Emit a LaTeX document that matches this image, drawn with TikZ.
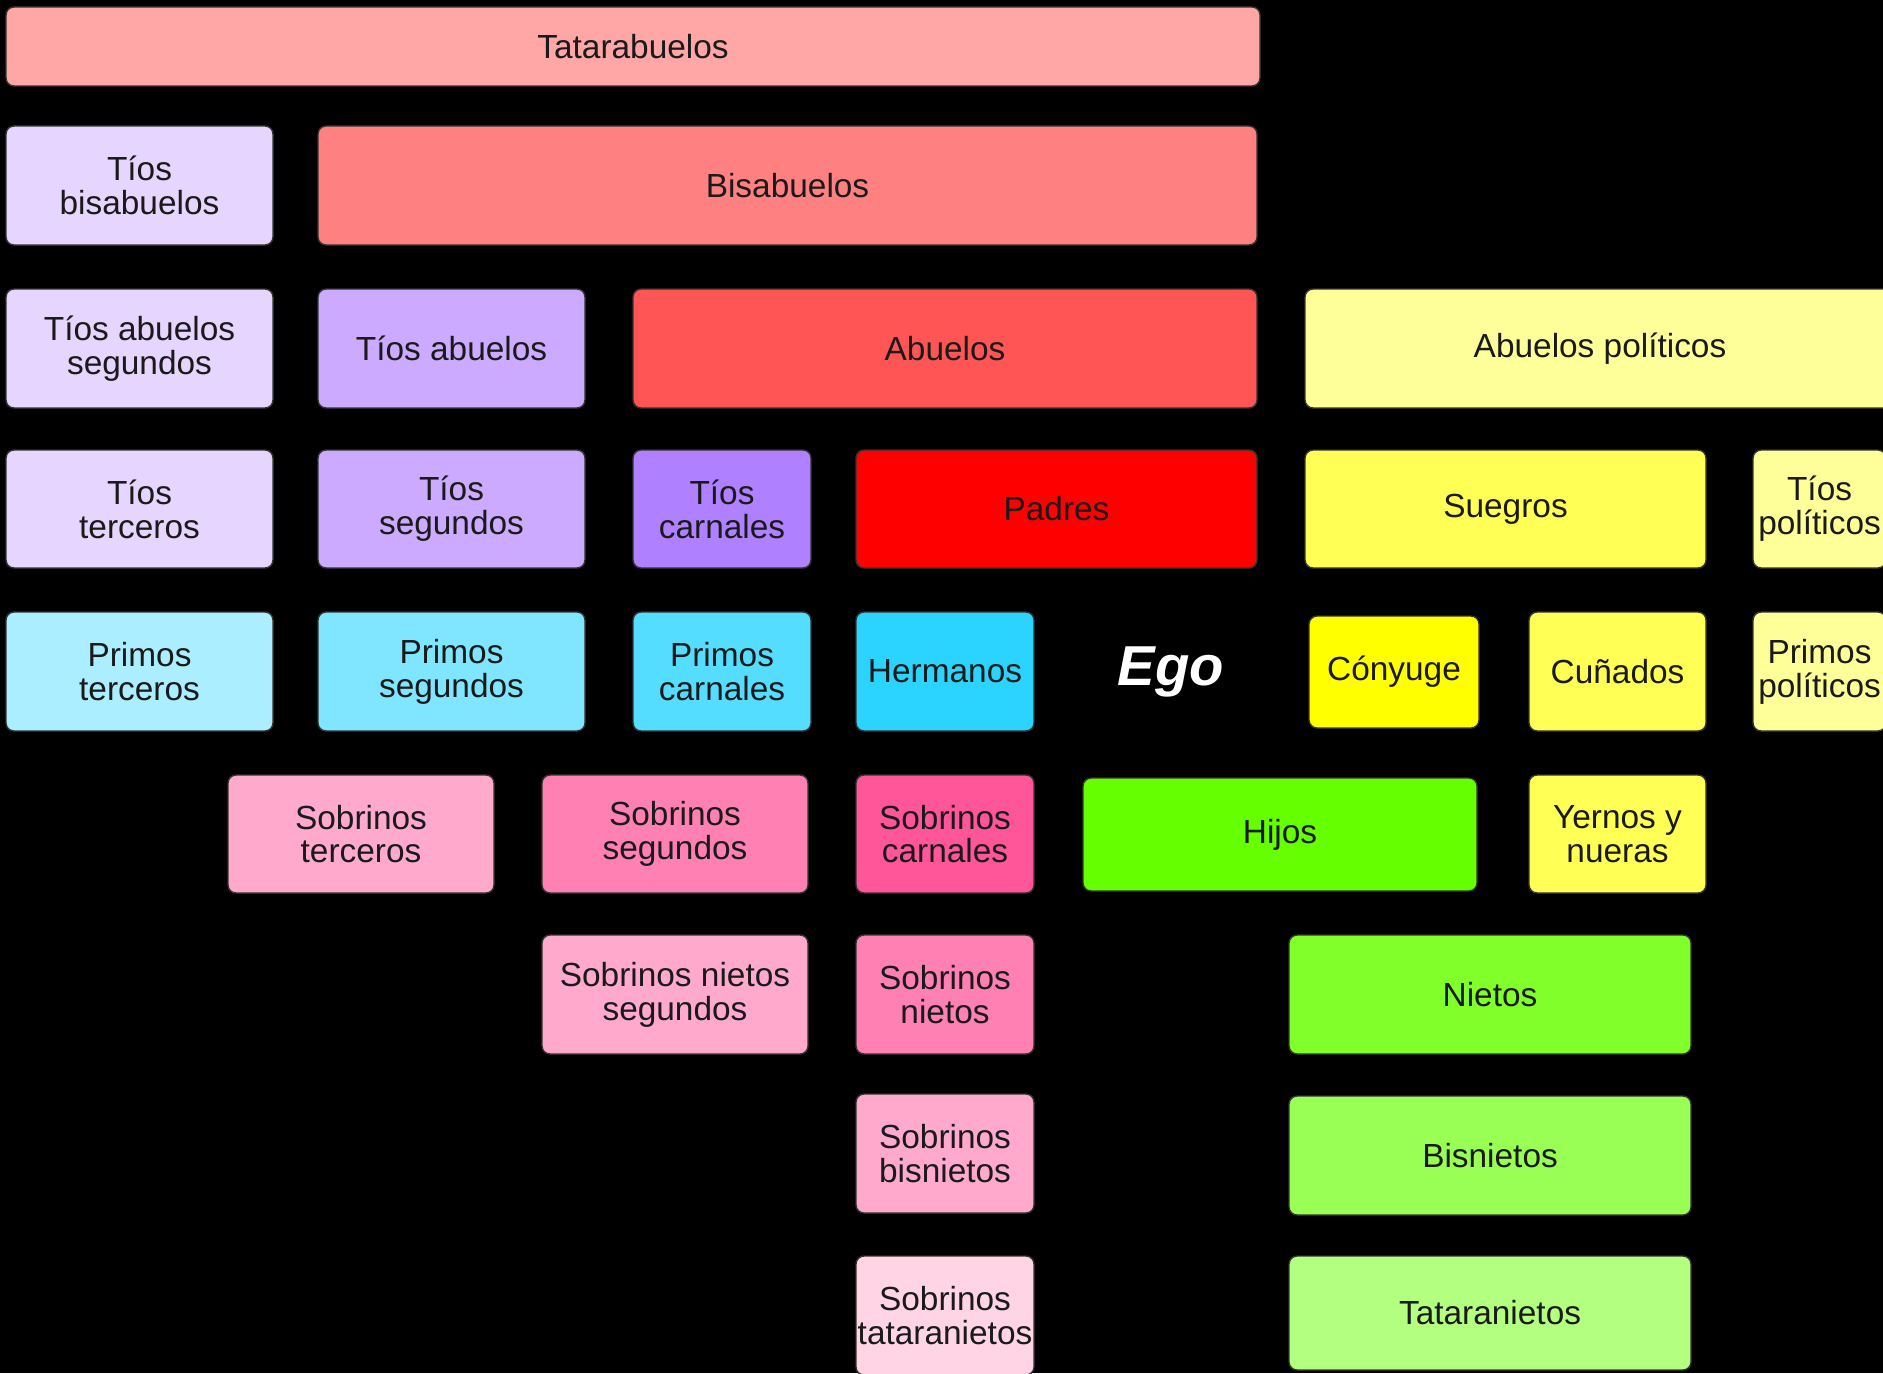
\documentclass[tikz,border=0pt]{standalone}
\usepackage{fontspec}
\setmainfont{Liberation Sans}
\definecolor{cTata}{HTML}{FFA6A6}
\definecolor{cBis}{HTML}{FF8080}
\definecolor{cAbu}{HTML}{FF5555}
\definecolor{cPad}{HTML}{FF0000}
\definecolor{cLav1}{HTML}{E5D5FF}
\definecolor{cLav2}{HTML}{CCAAFF}
\definecolor{cLav3}{HTML}{AF80FF}
\definecolor{cCy1}{HTML}{AAEEFF}
\definecolor{cCy2}{HTML}{80E5FF}
\definecolor{cCy3}{HTML}{55DDFF}
\definecolor{cCy4}{HTML}{2AD4FF}
\definecolor{cPk1}{HTML}{FFAACC}
\definecolor{cPk2}{HTML}{FF80B2}
\definecolor{cPk3}{HTML}{FF5599}
\definecolor{cPk0}{HTML}{FFD5E5}
\definecolor{cGr1}{HTML}{66FF00}
\definecolor{cGr2}{HTML}{80FF2A}
\definecolor{cGr3}{HTML}{99FF55}
\definecolor{cGr4}{HTML}{B3FF80}
\definecolor{cYe0}{HTML}{FFFF00}
\definecolor{cYe1}{HTML}{FFFF55}
\definecolor{cYe2}{HTML}{FFFF99}
\definecolor{cTxt}{HTML}{1A1A1A}
\definecolor{cEdge}{HTML}{333333}
\newcommand\bx[7]{\node[famb,fill=#2,minimum width={(#5-#3)*0.01cm},minimum height={(#6-#4)*0.01cm}] (#1) at ({(#3+#5)/2},{(#4+#6)/2}) {#7};}
\begin{document}
\begin{tikzpicture}[x=0.01cm,y=-0.01cm,
  famb/.style={draw=cEdge,line width=0.4pt,rounded corners=8*0.01cm,inner sep=0pt,
    align=center,text=cTxt,font=\fontsize{9.5pt}{9.6pt}\selectfont}]
\useasboundingbox (0,0) rectangle (1883,1373);
\fill[black] (0,0) rectangle (1883,1373);
\clip (0,0) rectangle (1883,1373);
% row 1
\bx{tata}{cTata}{6}{7}{1260}{86}{Tatarabuelos}
% row 2
\bx{tbis}{cLav1}{6}{126}{273}{245}{Tíos\\bisabuelos}
\bx{bis}{cBis}{318}{126}{1257}{245}{Bisabuelos}
% row 3
\bx{tabs}{cLav1}{6}{289}{273}{408}{Tíos abuelos\\segundos}
\bx{tab}{cLav2}{318}{289}{585}{408}{Tíos abuelos}
\bx{abu}{cAbu}{633}{289}{1257}{408}{Abuelos}
\bx{abp}{cYe2}{1305}{289}{1895}{408}{Abuelos políticos}
% row 4
\bx{tter}{cLav1}{6}{450}{273}{568}{Tíos\\terceros}
\bx{tseg}{cLav2}{318}{450}{585}{568}{Tíos\\segundos}
\bx{tcar}{cLav3}{633}{450}{811}{568}{Tíos\\carnales}
\bx{pad}{cPad}{856}{450}{1257}{568}{Padres}
\bx{sue}{cYe1}{1305}{450}{1706}{568}{Suegros}
\bx{tpol}{cYe2}{1753}{450}{1886}{568}{Tíos\\políticos}
% row 5
\bx{pter}{cCy1}{6}{612}{273}{731}{Primos\\terceros}
\bx{pseg}{cCy2}{318}{612}{585}{731}{Primos\\segundos}
\bx{pcar}{cCy3}{633}{612}{811}{731}{Primos\\carnales}
\bx{her}{cCy4}{856}{612}{1034}{731}{Hermanos}
\node[text=white,font=\fontsize{16pt}{18pt}\selectfont\bfseries\itshape] (ego) at (1171,672) {Ego};
\bx{cony}{cYe0}{1309}{616}{1479}{728}{Cónyuge}
\bx{cun}{cYe1}{1529}{612}{1706}{731}{Cuñados}
\bx{ppol}{cYe2}{1753}{612}{1886}{731}{Primos\\políticos}
% row 6
\bx{ster}{cPk1}{228}{775}{494}{893}{Sobrinos\\terceros}
\bx{sseg}{cPk2}{542}{775}{808}{893}{Sobrinos\\segundos}
\bx{scar}{cPk3}{856}{775}{1034}{893}{Sobrinos\\carnales}
\bx{hij}{cGr1}{1083}{778}{1477}{891}{Hijos}
\bx{yer}{cYe1}{1529}{775}{1706}{893}{Yernos y\\nueras}
% row 7
\bx{snseg}{cPk1}{542}{935}{808}{1054}{Sobrinos nietos\\segundos}
\bx{sn}{cPk2}{856}{935}{1034}{1054}{Sobrinos\\nietos}
\bx{nie}{cGr2}{1289}{935}{1691}{1054}{Nietos}
% row 8
\bx{sbis}{cPk1}{856}{1094}{1034}{1213}{Sobrinos\\bisnietos}
\bx{bisn}{cGr3}{1289}{1096}{1691}{1215}{Bisnietos}
% row 9
\bx{stat}{cPk0}{856}{1256}{1034}{1375}{Sobrinos\\tataranietos}
\bx{tatn}{cGr4}{1289}{1256}{1691}{1370}{Tataranietos}
\end{tikzpicture}
\end{document}
